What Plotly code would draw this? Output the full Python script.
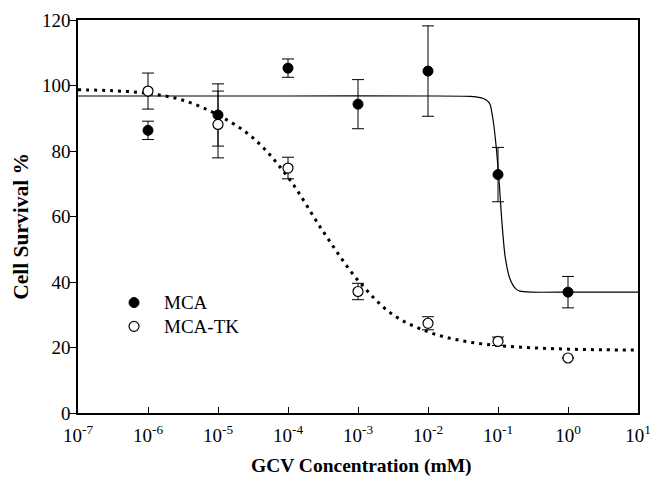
import plotly.graph_objects as go

# ---- data ----
conc = [1e-6, 1e-5, 1e-4, 1e-3, 1e-2, 1e-1, 1e0]
mca = [86.3, 91.0, 105.3, 94.3, 104.4, 72.8, 36.9]
mca_err = [2.8, 9.5, 2.8, 7.5, 13.8, 8.3, 4.8]
mcatk = [98.3, 88.1, 74.8, 37.1, 27.4, 21.9, 16.8]
mcatk_err = [5.5, 10.2, 3.3, 2.5, 2.0, 1.3, 0.0]

# fitted curves, points
mca_fit_x = [1e-7, 1e-4, 1e-2, 0.04, 0.056, 0.068, 0.0769, 0.0857, 0.0955,
             0.1047, 0.113, 0.126, 0.148, 0.178, 0.206, 0.3, 1.0, 10.0]
mca_fit_y = [96.8, 96.8, 96.8, 96.7, 96.3, 95.6, 94.3, 89.0, 80.0,
             69.5, 59.0, 48.0, 41.0, 38.0, 37.2, 36.9, 36.9, 36.9]
tk_fit_x = [1e-7, 3.16e-7, 1e-6, 3.16e-6, 1e-5, 3.16e-5, 1e-4, 3.16e-4, 1e-3,
            3.16e-3, 1e-2, 3.16e-2, 1e-1, 3.16e-1, 1.0, 3.16, 10.0]
tk_fit_y = [98.7, 98.4, 97.6, 95.5, 91.0, 84.0, 72.0, 55.5, 40.5,
            30.0, 24.8, 22.0, 20.6, 19.9, 19.5, 19.3, 19.2]

xtick_vals = [1e-7, 1e-6, 1e-5, 1e-4, 1e-3, 1e-2, 1e-1, 1e0, 1e1]
xtick_text = ["10<sup>-7</sup>", "10<sup>-6</sup>", "10<sup>-5</sup>", "10<sup>-4</sup>",
              "10<sup>-3</sup>", "10<sup>-2</sup>", "10<sup>-1</sup>", "10<sup>0</sup>",
              "10<sup>1</sup>"]
ytick_vals = [0, 20, 40, 60, 80, 100, 120]

series_names = ["MCA", "MCA-TK"]
x_title = "GCV Concentration (mM)"
y_title = "Cell Survival %"

FONT = "Liberation Serif"

fig = go.Figure()

fig.add_trace(go.Scatter(x=mca_fit_x, y=mca_fit_y, mode="lines",
                         line=dict(color="black", width=1.2, shape="spline", smoothing=0.6),
                         showlegend=False, hoverinfo="skip"))
fig.add_trace(go.Scatter(x=tk_fit_x, y=tk_fit_y, mode="lines",
                         line=dict(color="black", width=3, dash="3px,5px",
                                   shape="spline", smoothing=1.0),
                         showlegend=False, hoverinfo="skip"))

fig.add_trace(go.Scatter(x=conc, y=mca, mode="markers",
                         name="<span style='font-size:19px'>" + series_names[0] + "</span>",
                         marker=dict(symbol="circle", size=10, color="black",
                                     line=dict(color="black", width=1)),
                         error_y=dict(type="data", array=mca_err, color="black",
                                      thickness=1, width=6)))
fig.add_trace(go.Scatter(x=conc, y=mcatk, mode="markers",
                         name="<span style='font-size:19px'>" + series_names[1] + "</span>",
                         marker=dict(symbol="circle", size=10, color="white",
                                     line=dict(color="black", width=1.2)),
                         error_y=dict(type="data", array=mcatk_err, color="black",
                                      thickness=1, width=6)))

fig.add_annotation(text="<b>" + x_title + "</b>", xref="paper", yref="paper",
                   x=0.507, y=-0.135, xanchor="center", yanchor="middle",
                   showarrow=False, font=dict(size=19.5, family=FONT, color="black"))
fig.add_annotation(text="<b>" + y_title + "</b>", xref="paper", yref="paper",
                   x=-0.102, y=0.476, xanchor="center", yanchor="middle", textangle=-90,
                   showarrow=False, font=dict(size=21.5, family=FONT, color="black"))

fig.update_layout(
    width=650, height=479,
    margin=dict(l=78, r=12, t=20, b=66),
    paper_bgcolor="white", plot_bgcolor="white",
    font=dict(family=FONT, size=19, color="black"),
    legend=dict(x=0.0465, y=0.324, xanchor="left", yanchor="top",
                bgcolor="rgba(0,0,0,0)", font=dict(size=16, family=FONT),
                itemwidth=50, tracegroupgap=0),
    xaxis=dict(type="log", range=[-7, 1], tickvals=xtick_vals, ticktext=xtick_text,
               ticks="inside", ticklen=6, tickwidth=1, tickcolor="black",
               showline=True, linecolor="black", linewidth=1.5, mirror=True,
               showgrid=False, zeroline=False, ticklabelstandoff=4, automargin=False,
               ticklabeloverflow="allow",
               tickfont=dict(size=19, family=FONT)),
    yaxis=dict(range=[0, 120], tickvals=ytick_vals,
               ticks="outside", ticklen=6, tickwidth=1, tickcolor="black",
               showline=True, linecolor="black", linewidth=1.5, mirror=True,
               showgrid=False, zeroline=False, ticklabelstandoff=-4, automargin=False,
               ticklabeloverflow="allow",
               tickfont=dict(size=19, family=FONT)),
)

fig.write_html("out.html",
               config={"displayModeBar": False},
               post_script="document.body.style.margin='0';document.body.style.overflow='hidden';")
